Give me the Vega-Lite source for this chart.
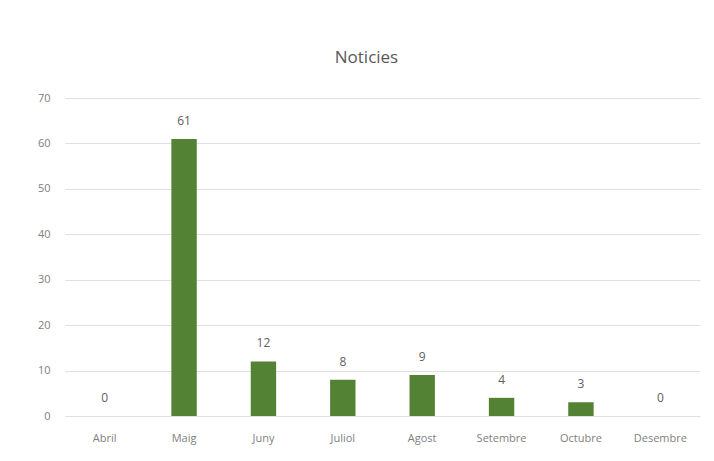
{
  "$schema": "https://vega.github.io/schema/vega-lite/v6.json",
  "autosize": {"type": "none"},
  "width": 635,
  "height": 318,
  "padding": {"left": 65, "top": 98, "right": 14, "bottom": 45},
  "background": "white",
  "title": {"text": "Noticies", "fontSize": 17, "font": "Open Sans", "fontWeight": "normal", "color": "#595959", "offset": 25, "dx": -16, "anchor": "middle"},
  "data": {"values": [
    {"mes": "Abril", "n": 0},
    {"mes": "Maig", "n": 61},
    {"mes": "Juny", "n": 12},
    {"mes": "Juliol", "n": 8},
    {"mes": "Agost", "n": 9},
    {"mes": "Setembre", "n": 4},
    {"mes": "Octubre", "n": 3},
    {"mes": "Desembre", "n": 0}
  ]},
  "encoding": {
    "x": {"field": "mes", "type": "nominal", "sort": null, "title": null,
      "scale": {"paddingInner": 0.68, "paddingOuter": 0.34},
      "axis": {"labelAngle": 0, "ticks": false, "domain": false, "labelPadding": 16, "labelFont": "Open Sans", "labelFontSize": 11, "labelColor": "#808080"}},
    "y": {"field": "n", "type": "quantitative", "title": null,
      "scale": {"domain": [0, 70]},
      "axis": {"values": [0, 10, 20, 30, 40, 50, 60, 70], "ticks": false, "domain": false, "labelPadding": 15, "labelFont": "Open Sans", "labelFontSize": 11, "labelColor": "#808080", "gridColor": "#e0e0e0"}}
  },
  "layer": [
    {"mark": {"type": "bar", "color": "#548235"}},
    {"mark": {"type": "text", "baseline": "bottom", "dy": -11, "font": "Open Sans", "fontSize": 12, "color": "#606060"},
     "encoding": {"text": {"field": "n", "type": "quantitative"}}}
  ],
  "config": {"view": {"stroke": null}}
}
